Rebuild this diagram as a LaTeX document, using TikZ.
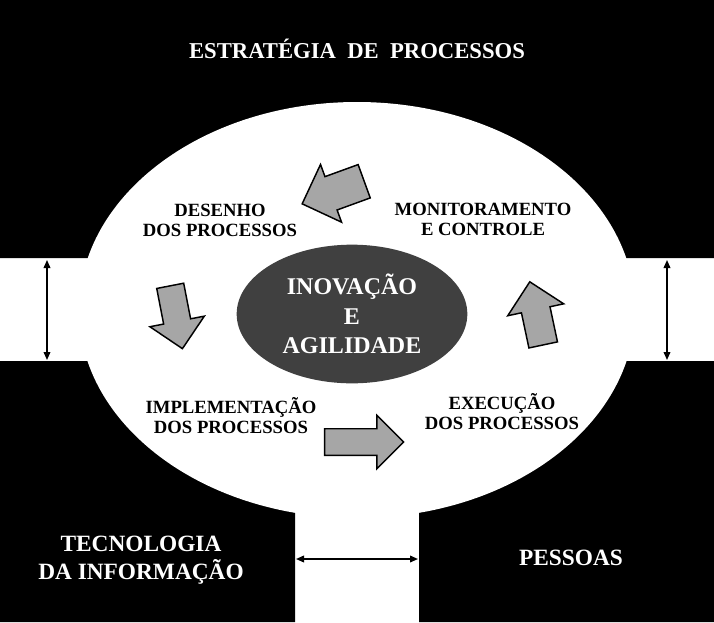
\documentclass[tikz,border=0pt]{standalone}
\usepackage{fontspec}
\setmainfont{Liberation Serif}
\usetikzlibrary{shapes.geometric,shapes.arrows,arrows.meta}
\definecolor{cinzaseta}{HTML}{A6A6A6}
\definecolor{cinzaescuro}{HTML}{404040}
\tikzset{
	seta/.style={single arrow, draw=black, line width=1.1pt, fill=cinzaseta, inner xsep=0pt, single arrow tip angle=90},
	etapa/.style={align=center, font=\fontsize{14}{15}\selectfont\bfseries},
	bloco/.style={align=center, text=white, font=\fontsize{17.5}{21}\selectfont\bfseries},
	dupla/.style={{Triangle[length=6pt,width=5pt]}-{Triangle[length=6pt,width=5pt]}, line width=1.1pt}
}
\begin{document}
\begin{tikzpicture}[x=.75pt, y=-.75pt]
	\fill[white] (0,0) rectangle (714,622);
	\useasboundingbox (0,0) rectangle (714,622);
	\fill[black] (0,0) rectangle (714,258) (0,361) rectangle (295,622) (419,361) rectangle (714,622);
	\fill[white] (357,310) ellipse [x radius=208.5pt, y radius=156pt];

	\node[bloco, font=\fontsize{17}{21}\selectfont\bfseries] (estrategia) at (357,49) {ESTRATÉGIA\ \ DE\ \ PROCESSOS};
	\node[bloco] (tecnologia) at (141,560) {TECNOLOGIA\\DA INFORMAÇÃO};
	\node[bloco] (pessoas) at (571,558) {PESSOAS};

	\node[ellipse, fill=cinzaescuro, minimum width=173pt, minimum height=104pt, text=white, align=center,
		font=\fontsize{18}{22}\selectfont\bfseries] (nucleo) at (352,314) {INOVAÇÃO\\E\\AGILIDADE};

	\node[etapa] (desenho) at (220,220) {DESENHO\\DOS PROCESSOS};
	\node[etapa] (monitoramento) at (483,219) {MONITORAMENTO\\E CONTROLE};
	\node[etapa] (implementacao) at (231,416) {IMPLEMENTAÇÃO\\DOS PROCESSOS};
	\node[etapa] (execucao) at (502,412) {EXECUÇÃO\\DOS PROCESSOS};

	\node[seta, minimum height=49.5pt, inner ysep=12.75pt, single arrow head extend=9.75pt, rotate=200] (s1) at (341.5,189.5) {};
	\node[seta, minimum height=48pt, inner ysep=9.75pt, single arrow head extend=10.5pt, rotate=-79] (s2) at (175,310.5) {};
	\node[seta, minimum height=59.25pt, inner ysep=9.4pt, single arrow head extend=10.1pt, rotate=0] (s3) at (357.5,442) {};
	\node[seta, minimum height=48.4pt, inner ysep=10.4pt, single arrow head extend=10.5pt, rotate=102] (s4) at (538,320.5) {};

	\coordinate (esqA) at (47,260); \coordinate (esqB) at (47,360);
	\coordinate (dirA) at (667,260); \coordinate (dirB) at (667,360);
	\coordinate (baiA) at (296,559); \coordinate (baiB) at (418,559);
	\foreach \a/\b in {esqA/esqB,dirA/dirB,baiA/baiB}
		\draw[dupla] (\a)--(\b);
\end{tikzpicture}
\end{document}
